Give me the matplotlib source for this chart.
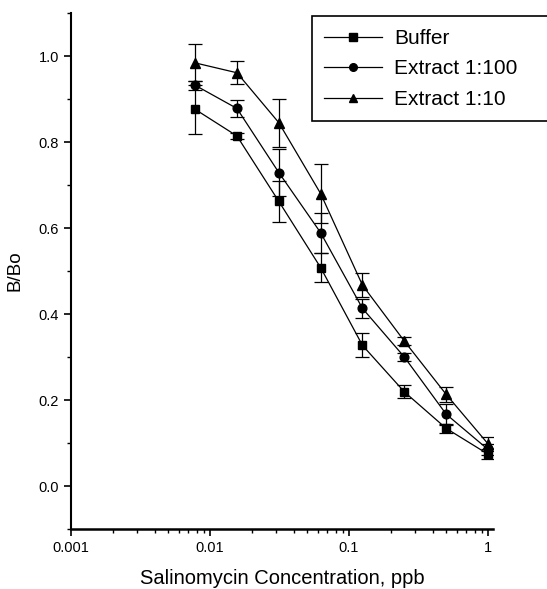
import numpy as np
import matplotlib
matplotlib.use('Agg')
import matplotlib.pyplot as plt
from matplotlib.ticker import FixedLocator, FixedFormatter, LogLocator, MultipleLocator, NullFormatter

plt.rcParams['font.family'] = ['Liberation Sans', 'DejaVu Sans']

# Data
conc = [0.0078125, 0.015625, 0.03125, 0.0625, 0.125, 0.25, 0.5, 1.0]

buffer = [0.876, 0.814, 0.662, 0.508, 0.327, 0.219, 0.134, 0.074]
buffer_err = [0.057, 0.007, 0.047, 0.033, 0.028, 0.015, 0.010, 0.012]

ext100 = [0.932, 0.878, 0.729, 0.589, 0.413, 0.300, 0.167, 0.085]
ext100_err = [0.010, 0.020, 0.055, 0.047, 0.022, 0.010, 0.024, 0.012]

ext10 = [0.984, 0.961, 0.845, 0.680, 0.467, 0.337, 0.213, 0.098]
ext10_err = [0.043, 0.027, 0.056, 0.068, 0.028, 0.010, 0.018, 0.017]

labels = ['Buffer', 'Extract 1:100', 'Extract 1:10']
xticks = [0.001, 0.01, 0.1, 1]
xticklabels = ['0.001', '0.01', '0.1', '1']
yticks = [0.0, 0.2, 0.4, 0.6, 0.8, 1.0]

fig = plt.figure(figsize=(5.47, 5.89), dpi=100)
ax = fig.add_axes([71/547, 1-529/589, (493-71)/547, (529-13)/589])

series = [(buffer, buffer_err, 's', 5.8),
          (ext100, ext100_err, 'o', 6.3),
          (ext10, ext10_err, '^', 6.8)]

for (vals, err, mk, ms), lab in zip(series, labels):
    ax.errorbar(conc, vals, yerr=err, fmt='none', ecolor='black',
                elinewidth=0.9, capsize=5, capthick=0.9)
    ax.plot(conc, vals, color='black', lw=0.9, marker=mk, ms=ms, label=lab)

ax.set_xscale('log')
ax.set_xlim(0.001, 1.086)
ax.set_ylim(-0.1, 1.1)

ax.xaxis.set_major_locator(FixedLocator(xticks))
ax.xaxis.set_major_formatter(FixedFormatter(xticklabels))
ax.xaxis.set_minor_locator(LogLocator(base=10, subs=np.arange(2, 10)))
ax.xaxis.set_minor_formatter(NullFormatter())
ax.yaxis.set_major_locator(FixedLocator(yticks))
ax.yaxis.set_minor_locator(MultipleLocator(0.1))
ax.set_yticklabels(['%.1f' % v for v in yticks])

ax.spines['top'].set_visible(False)
ax.spines['right'].set_visible(False)
ax.spines['left'].set_linewidth(1.5)
ax.spines['bottom'].set_linewidth(1.8)
ax.tick_params(which='major', direction='out', length=5, width=1.2, labelsize=10.5)
ax.tick_params(which='minor', direction='out', length=3, width=1.0)

ax.set_xlabel('Salinomycin Concentration, ppb', fontsize=14.5, labelpad=10)
ax.set_ylabel('B/Bo', fontsize=13.5, labelpad=11)

leg = ax.legend(loc='upper left', bbox_to_anchor=(312/547, 1-17/589, (570-312)/547, 0.001),
                bbox_transform=fig.transFigure, mode='expand', fancybox=False,
                frameon=True, framealpha=1, edgecolor='black', fontsize=15,
                handlelength=2.75, handletextpad=0.6, labelspacing=0.55, borderpad=0.6,
                borderaxespad=0)
leg.get_frame().set_linewidth(1.2)
for h in leg.legend_handles:
    h.set_markersize(5.5)

fig.savefig('out.png', dpi=100)
